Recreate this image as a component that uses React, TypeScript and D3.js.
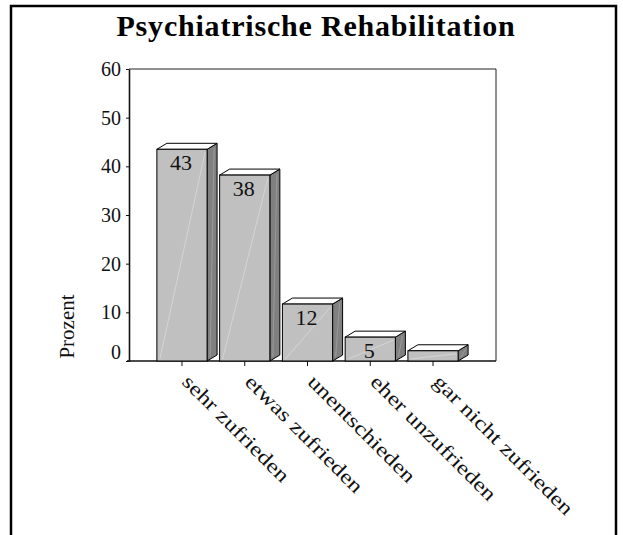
import { useEffect, useRef } from 'react'
import * as d3 from 'd3'

const categories = ['sehr zufrieden', 'etwas zufrieden', 'unentschieden', 'eher unzufrieden', 'gar nicht zufrieden']
const values = [43.5, 38.2, 11.7, 4.9, 2.1]
const valueLabels = ['43', '38', '12', '5', '']
const yTicks = [0, 10, 20, 30, 40, 50, 60]

const W = 623
const H = 535
const FONT = '"Liberation Serif", "Times New Roman", serif'

export default function App() {
  const svgRef = useRef<SVGSVGElement>(null)

  useEffect(() => {
    if (!svgRef.current) return
    const svg = d3.select(svgRef.current)
    svg.selectAll('*').remove()

    const plot = { left: 129, right: 496, top: 69, bottom: 361 }
    const depth = { dx: 10, dy: 6 }

    const y = d3.scaleLinear().domain([0, 60]).range([plot.bottom, plot.top])
    const x = d3.scaleBand<string>()
      .domain(categories)
      .range([150.6, 464.4])
      .paddingInner(0.2)
      .paddingOuter(0.1)

    // outer frame
    svg.append('rect')
      .attr('x', 11).attr('y', 6)
      .attr('width', 605).attr('height', H + 20)
      .attr('fill', 'none')
      .attr('stroke', '#000')
      .attr('stroke-width', 2.5)

    // title
    svg.append('text')
      .attr('x', 316).attr('y', 36)
      .attr('text-anchor', 'middle')
      .attr('font-family', FONT)
      .attr('font-weight', 'bold')
      .attr('font-size', 30)
      .attr('letter-spacing', 0.8)
      .attr('fill', '#000')
      .text('Psychiatrische Rehabilitation')

    // plot frame (top + right)
    svg.append('path')
      .attr('d', `M${plot.left},${plot.top}H${plot.right}V${plot.bottom}`)
      .attr('fill', 'none')
      .attr('stroke', '#222')
      .attr('stroke-width', 1)

    // y axis
    const yAxis = svg.append('g')
      .attr('transform', `translate(${plot.left},0)`)
      .call(d3.axisLeft(y).tickValues(yTicks).tickSize(3).tickPadding(5).tickSizeOuter(0))
    yAxis.select('.domain').attr('stroke', '#111').attr('stroke-width', 1.6)
    yAxis.selectAll('.tick line').attr('stroke', '#111')
    yAxis.selectAll<SVGTextElement, number>('.tick text')
      .attr('font-family', FONT)
      .attr('font-size', 20)
      .attr('fill', '#111')
      .attr('dy', d => (d === 0 ? '-0.12em' : '0.32em'))

    // x axis
    const xAxis = svg.append('g')
      .attr('transform', `translate(0,${plot.bottom})`)
      .call(d3.axisBottom(x).tickSize(5).tickSizeOuter(0))
    xAxis.select('.domain')
      .attr('d', `M${plot.left - 2},0H${plot.right}`)
      .attr('stroke', '#111')
      .attr('stroke-width', 1.6)
    xAxis.selectAll('.tick line').attr('stroke', '#111')
    xAxis.selectAll('.tick text').remove()
    xAxis.selectAll<SVGGElement, string>('.tick')
      .append('text')
      .attr('transform', 'translate(-1,22) rotate(45) scale(1.25,1)')
      .attr('text-anchor', 'start')
      .attr('font-family', FONT)
      .attr('font-size', 20)
      .attr('fill', '#111')
      .text(d => d)

    // bars
    const data = categories.map((c, i) => ({ c, v: values[i], label: valueLabels[i] }))
    const bars = svg.append('g')
      .selectAll('g')
      .data(data)
      .join('g')

    bars.each(function (d) {
      const g = d3.select(this)
      const x0 = x(d.c) ?? 0
      const x1 = x0 + x.bandwidth()
      const yt = y(d.v)
      const yb = y(0)
      const { dx, dy } = depth

      g.append('path')
        .attr('d', `M${x1},${yt}L${x1 + dx},${yt - dy}L${x1 + dx},${yb - dy}L${x1},${yb}Z`)
        .attr('fill', '#808080')
        .attr('stroke', '#000')
        .attr('stroke-width', 1)
        .attr('stroke-linejoin', 'round')
      g.append('line')
        .attr('x1', x1 + 3).attr('y1', yb - 4)
        .attr('x2', x1 + dx - 3).attr('y2', yt - dy + 5)
        .attr('stroke', '#9a9a9a')
        .attr('stroke-width', 1)
      g.append('path')
        .attr('d', `M${x0},${yt}L${x0 + dx},${yt - dy}L${x1 + dx},${yt - dy}L${x1},${yt}Z`)
        .attr('fill', '#ffffff')
        .attr('stroke', '#000')
        .attr('stroke-width', 1)
        .attr('stroke-linejoin', 'round')
      g.append('rect')
        .attr('x', x0).attr('y', yt)
        .attr('width', x1 - x0).attr('height', yb - yt)
        .attr('fill', '#c0c0c0')
        .attr('stroke', '#000')
        .attr('stroke-width', 1)
      g.append('line')
        .attr('x1', x0 + 3).attr('y1', yb - 2)
        .attr('x2', x1 - 2).attr('y2', yt + 3)
        .attr('stroke', '#dcdcdc')
        .attr('stroke-width', 0.7)

      if (d.label) {
        g.append('text')
          .attr('x', (x0 + x1) / 2 - 1)
          .attr('y', yt + 21)
          .attr('text-anchor', 'middle')
          .attr('font-family', FONT)
          .attr('font-size', 22)
          .attr('fill', '#111')
          .text(d.label)
      }
    })

    // y axis title
    svg.append('text')
      .attr('transform', 'translate(74,326.5) rotate(-90)')
      .attr('text-anchor', 'middle')
      .attr('font-family', FONT)
      .attr('font-size', 21)
      .attr('fill', '#111')
      .text('Prozent')
  }, [])

  return (
    <svg
      ref={svgRef}
      width={W}
      height={H}
      style={{ position: 'absolute', left: 0, top: 0, background: '#fff' }}
    />
  )
}
